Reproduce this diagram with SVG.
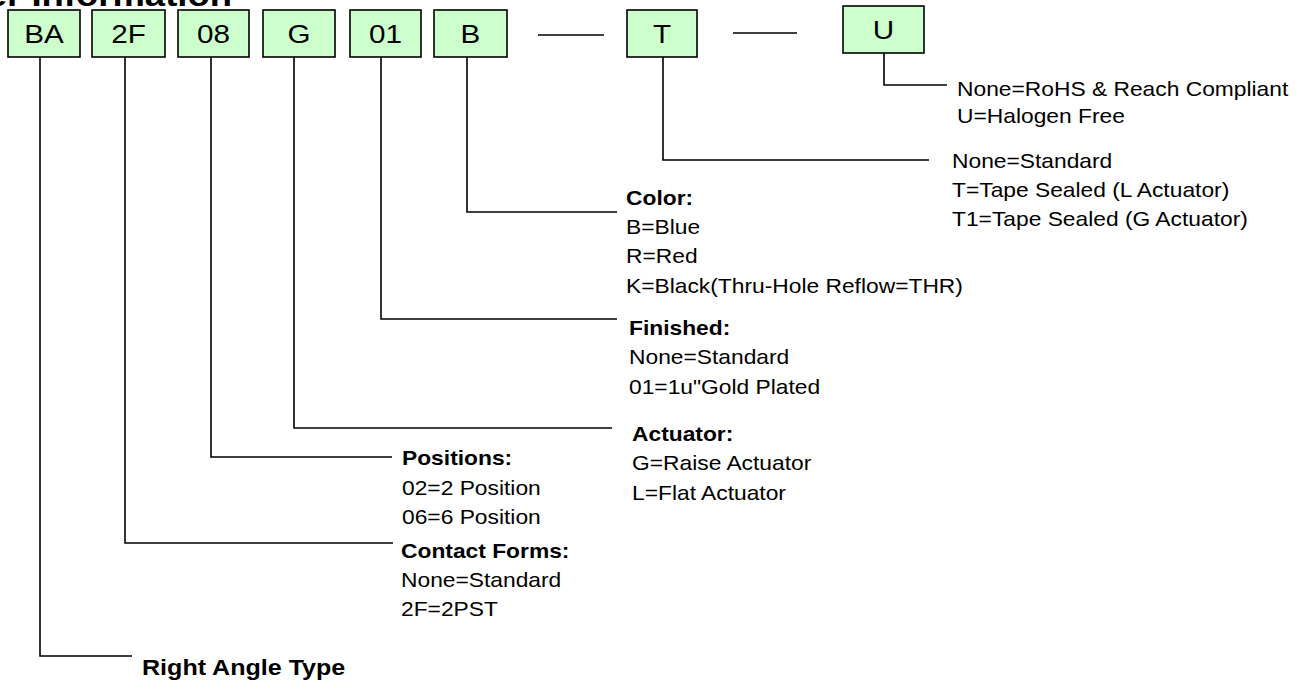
<svg xmlns="http://www.w3.org/2000/svg" width="1305" height="682" viewBox="0 0 1305 682">
<style>
  .box { fill: #ccffcc; stroke: #000; stroke-width: 1.6; }
  .bt { font-family: "Liberation Sans", Arial, Helvetica, sans-serif; font-size: 26px; text-anchor: middle; fill: #000; }
  .t { font-family: "Liberation Sans", Arial, Helvetica, sans-serif; font-size: 20px; fill: #000; }
  .b { font-weight: bold; }
  .big { font-size: 22px; }
  .title { font-family: "Liberation Sans", Arial, Helvetica, sans-serif; font-size: 32px; font-weight: bold; fill: #000; }
  .c { fill: none; stroke: #000; stroke-width: 1.6; }
</style>
<rect width="1305" height="682" fill="#fff"/>
<text class="title" transform="matrix(1.14,0,0,1,-78,6)">Order Information</text>
<g id="connectors">
  <polyline class="c" points="40,57 40,656 132,656"/>
  <polyline class="c" points="125,57 125,543 393,543"/>
  <polyline class="c" points="211,57 211,457 392,457"/>
  <polyline class="c" points="294,57 294,428 612,428"/>
  <polyline class="c" points="381,57 381,319 617,319"/>
  <polyline class="c" points="467,57 467,212 617,212"/>
  <polyline class="c" points="663,57 663,160 929,160"/>
  <polyline class="c" points="884,53 884,85 947,85"/>
  <line class="c" x1="538" y1="35" x2="604" y2="35"/>
  <line class="c" x1="733" y1="33" x2="797" y2="33"/>
</g>
<g id="node-BA"><rect class="box" x="8" y="10" width="72" height="47"/><text class="bt" transform="matrix(1.14,0,0,1,44,43)">BA</text></g>
<g id="node-2F"><rect class="box" x="92" y="10" width="73" height="47"/><text class="bt" transform="matrix(1.14,0,0,1,128.5,43)">2F</text></g>
<g id="node-08"><rect class="box" x="178" y="10" width="71" height="47"/><text class="bt" transform="matrix(1.14,0,0,1,213.5,43)">08</text></g>
<g id="node-G"><rect class="box" x="263" y="10" width="72" height="47"/><text class="bt" transform="matrix(1.14,0,0,1,299,43)">G</text></g>
<g id="node-01"><rect class="box" x="350" y="10" width="71" height="47"/><text class="bt" transform="matrix(1.14,0,0,1,385.5,43)">01</text></g>
<g id="node-B"><rect class="box" x="434" y="10" width="73" height="47"/><text class="bt" transform="matrix(1.14,0,0,1,470.5,43)">B</text></g>
<g id="node-T"><rect class="box" x="627" y="10" width="70" height="47"/><text class="bt" transform="matrix(1.14,0,0,1,662,43)">T</text></g>
<g id="node-U"><rect class="box" x="843" y="6" width="81" height="47"/><text class="bt" transform="matrix(1.14,0,0,1,883.5,39)">U</text></g>

<g id="label-U">
  <text class="t" transform="matrix(1.14,0,0,1,957,96)">None=RoHS &amp; Reach Compliant</text>
  <text class="t" transform="matrix(1.14,0,0,1,957,123)">U=Halogen Free</text>
</g>
<g id="label-T">
  <text class="t" transform="matrix(1.14,0,0,1,952,168)">None=Standard</text>
  <text class="t" transform="matrix(1.14,0,0,1,952,197)">T=Tape Sealed (L Actuator)</text>
  <text class="t" transform="matrix(1.14,0,0,1,952,226)">T1=Tape Sealed (G Actuator)</text>
</g>
<g id="label-color">
  <text class="t b" transform="matrix(1.14,0,0,1,626,205)">Color:</text>
  <text class="t" transform="matrix(1.14,0,0,1,626,234)">B=Blue</text>
  <text class="t" transform="matrix(1.14,0,0,1,626,263)">R=Red</text>
  <text class="t" transform="matrix(1.14,0,0,1,626,293)">K=Black(Thru-Hole Reflow=THR)</text>
</g>
<g id="label-finished">
  <text class="t b" transform="matrix(1.14,0,0,1,629,335)">Finished:</text>
  <text class="t" transform="matrix(1.14,0,0,1,629,364)">None=Standard</text>
  <text class="t" transform="matrix(1.14,0,0,1,629,394)">01=1u"Gold Plated</text>
</g>
<g id="label-actuator">
  <text class="t b" transform="matrix(1.14,0,0,1,632,441)">Actuator:</text>
  <text class="t" transform="matrix(1.14,0,0,1,632,470)">G=Raise Actuator</text>
  <text class="t" transform="matrix(1.14,0,0,1,632,500)">L=Flat Actuator</text>
</g>
<g id="label-positions">
  <text class="t b" transform="matrix(1.14,0,0,1,402,465)">Positions:</text>
  <text class="t" transform="matrix(1.14,0,0,1,402,495)">02=2 Position</text>
  <text class="t" transform="matrix(1.14,0,0,1,402,524)">06=6 Position</text>
</g>
<g id="label-contact">
  <text class="t b" transform="matrix(1.14,0,0,1,401,558)">Contact Forms:</text>
  <text class="t" transform="matrix(1.14,0,0,1,401,587)">None=Standard</text>
  <text class="t" transform="matrix(1.14,0,0,1,401,616)">2F=2PST</text>
</g>
<g id="label-BA">
  <text class="t b big" transform="matrix(1.14,0,0,1,142,675)">Right Angle Type</text>
</g>
</svg>
